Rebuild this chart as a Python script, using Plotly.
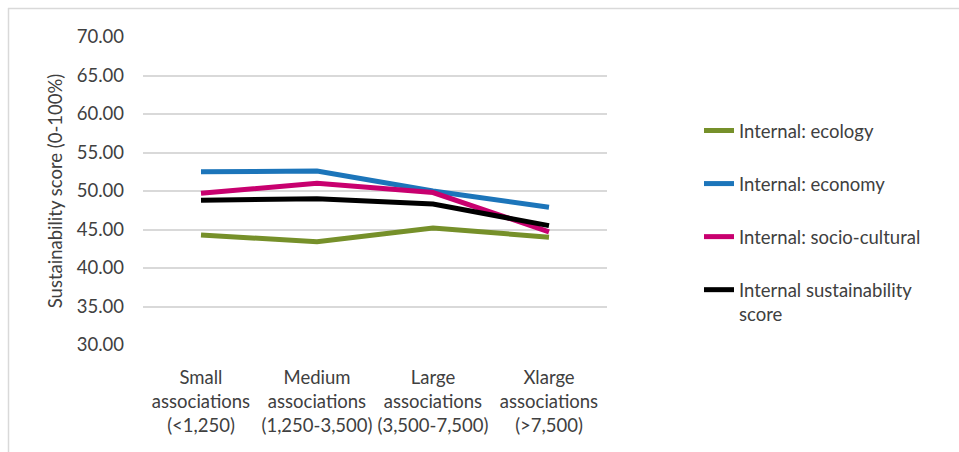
import plotly.graph_objects as go

categories = ["Small<br>associations<br>(<1,250)",
              "Medium<br>associations<br>(1,250-3,500)",
              "Large<br>associations<br>(3,500-7,500)",
              "Xlarge<br>associations<br>(>7,500)"]
ecology = [44.3, 43.4, 45.2, 44.0]
economy = [52.5, 52.6, 50.0, 47.9]
socio_cultural = [49.7, 51.0, 49.8, 44.7]
sustainability = [48.8, 49.0, 48.3, 45.5]

series_names = ["Internal: ecology", "Internal: economy",
                "Internal: socio-cultural", "Internal sustainability<br>score"]
series_values = [ecology, economy, socio_cultural, sustainability]
series_colors = ["#76902A", "#1C75BA", "#C8006F", "#000000"]

FONT = "Lato"
FS = 18.5
TXT = "#404040"

fig = go.Figure()
for i, (name, vals, col) in enumerate(zip(series_names, series_values, series_colors)):
    fig.add_trace(go.Scatter(
        x=categories, y=vals, name=name, mode="lines",
        line=dict(color=col, width=5), legendgroup=f"g{i}"))

W, H = 959, 452
L, R, T, B = 143, 607, 37, 345

fig.update_layout(
    width=W, height=H,
    margin=dict(l=L, r=W - R, t=T, b=H - B, autoexpand=False),
    paper_bgcolor="white", plot_bgcolor="white",
    font=dict(family=FONT, size=FS, color=TXT),
    showlegend=True,
    legend=dict(x=(699 - L) / (R - L), xanchor="left",
                y=1 - (112 - T) / (B - T), yanchor="top",
                tracegroupgap=26, valign="top",
                font=dict(family=FONT, size=FS, color=TXT),
                bgcolor="rgba(0,0,0,0)"),
    xaxis=dict(type="category", range=[-0.5, 3.5], showgrid=False,
               showline=False, zeroline=False, ticks="",
               ticklabelstandoff=19, tickfont=dict(size=FS, color=TXT)),
    yaxis=dict(range=[30, 70], dtick=5, tickformat=".2f",
               showgrid=True, gridcolor="#D9D9D9", gridwidth=2,
               zeroline=False, showline=False, ticks="",
               ticklabelstandoff=18, tickfont=dict(size=FS, color=TXT),
               title=dict(text="Sustainability score (0-100%)",
                          font=dict(size=FS, color=TXT), standoff=9)),
    shapes=[
        dict(type="line", xref="paper", yref="paper",
             x0=(8 - L) / (R - L), x1=(W - L) / (R - L),
             y0=1 + (T - 8.5) / (B - T), y1=1 + (T - 8.5) / (B - T),
             line=dict(color="#D9D9D9", width=1.5)),
        dict(type="line", xref="paper", yref="paper",
             x0=(8.5 - L) / (R - L), x1=(8.5 - L) / (R - L),
             y0=1 + (T - 8) / (B - T), y1=-(H - B) / (B - T),
             line=dict(color="#D9D9D9", width=1.5)),
    ],
)

fig.write_html("out.html")
